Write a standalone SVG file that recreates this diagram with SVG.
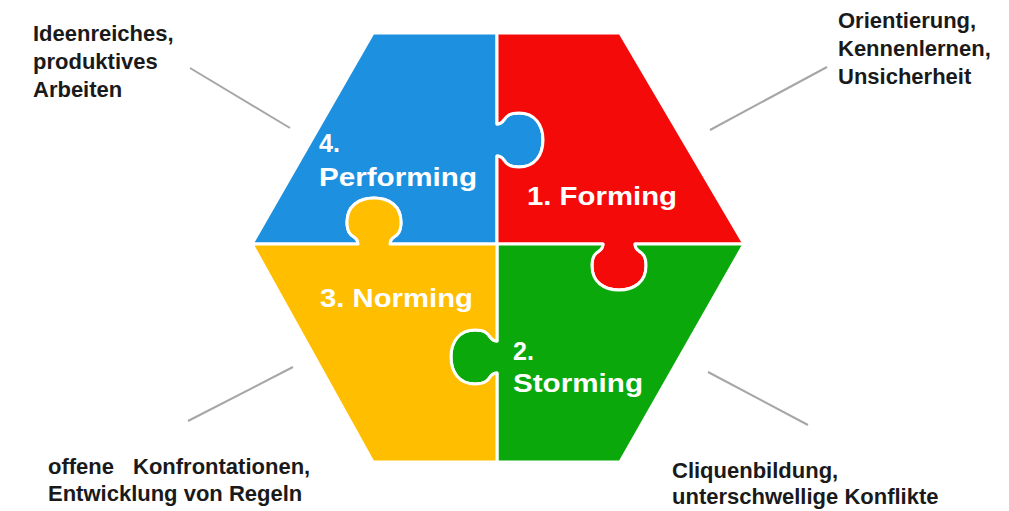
<svg xmlns="http://www.w3.org/2000/svg" width="1009" height="511" viewBox="0 0 1009 511">
<style>
.piece{stroke:#ffffff;stroke-width:3;stroke-linejoin:round}
.plabel{font-family:"Liberation Sans",Arial,sans-serif;font-weight:bold;font-size:25px;fill:#ffffff}
.note{font-family:"Liberation Sans",Arial,sans-serif;font-weight:bold;font-size:22px;fill:#1a1a1a}
.conn{stroke:#a6a6a6;stroke-width:2;fill:none}
</style>
<rect width="1009" height="511" fill="#ffffff"/>
<g id="performing">
<path class="piece" fill="#1E90E0" d="M 373,33 L 497,33 L 497,124 C 507,124 501,113 519,113 C 535,113 543,125 543,140 C 543,155 535,167 519,167 C 501,167 507,156 497,156 L 497,244 L 390,244 C 390,234 401,240 401,222 C 401,206 389,198 374,198 C 359,198 347,206 347,222 C 347,240 358,234 358,244 L 252,244 Z"/>
<text class="plabel" x="319" y="152">4.</text>
<text class="plabel" x="319" y="186" textLength="158" lengthAdjust="spacingAndGlyphs">Performing</text>
</g>
<g id="forming">
<path class="piece" fill="#F50A0A" d="M 497,33 L 620,33 L 744,244 L 635,244 C 635,254 646,248 646,266 C 646,282 634,290 619,290 C 604,290 592,282 592,266 C 592,248 603,254 603,244 L 497,244 L 497,156 C 507,156 501,167 519,167 C 535,167 543,155 543,140 C 543,125 535,113 519,113 C 501,113 507,124 497,124 Z"/>
<text class="plabel" x="527" y="205" textLength="150" lengthAdjust="spacingAndGlyphs">1. Forming</text>
</g>
<g id="storming">
<path class="piece" fill="#0BA80B" d="M 497,244 L 603,244 C 603,254 592,248 592,266 C 592,282 604,290 619,290 C 634,290 646,282 646,266 C 646,248 635,254 635,244 L 744,244 L 620,462 L 497,462 L 497,373 C 487,373 493,384 475,384 C 459,384 451,372 451,357 C 451,342 459,330 475,330 C 493,330 487,341 497,341 Z"/>
<text class="plabel" x="513" y="360">2.</text>
<text class="plabel" x="513" y="392" textLength="130" lengthAdjust="spacingAndGlyphs">Storming</text>
</g>
<g id="norming">
<path class="piece" fill="#FFBE00" d="M 252,244 L 358,244 C 358,234 347,240 347,222 C 347,206 359,198 374,198 C 389,198 401,206 401,222 C 401,240 390,234 390,244 L 497,244 L 497,341 C 487,341 493,330 475,330 C 459,330 451,342 451,357 C 451,372 459,384 475,384 C 493,384 487,373 497,373 L 497,462 L 373,462 Z"/>
<text class="plabel" x="320" y="307" textLength="153" lengthAdjust="spacingAndGlyphs">3. Norming</text>
</g>
<g id="connectors">
<line class="conn" x1="190" y1="68" x2="290" y2="128"/>
<line class="conn" x1="710" y1="130" x2="827" y2="67"/>
<line class="conn" x1="293" y1="367" x2="188" y2="421"/>
<line class="conn" x1="708" y1="372" x2="808" y2="425"/>
</g>
<g id="note-performing">
<text class="note" x="33" y="41">Ideenreiches,</text>
<text class="note" x="33" y="69">produktives</text>
<text class="note" x="33" y="97">Arbeiten</text>
</g>
<g id="note-forming">
<text class="note" x="838" y="28">Orientierung,</text>
<text class="note" x="838" y="56">Kennenlernen,</text>
<text class="note" x="838" y="84">Unsicherheit</text>
</g>
<g id="note-norming">
<text class="note" y="474"><tspan x="48">offene</tspan><tspan x="133">Konfrontationen,</tspan></text>
<text class="note" x="48" y="501">Entwicklung von Regeln</text>
</g>
<g id="note-storming">
<text class="note" x="672" y="478">Cliquenbildung,</text>
<text class="note" x="672" y="504">unterschwellige Konflikte</text>
</g>
</svg>
